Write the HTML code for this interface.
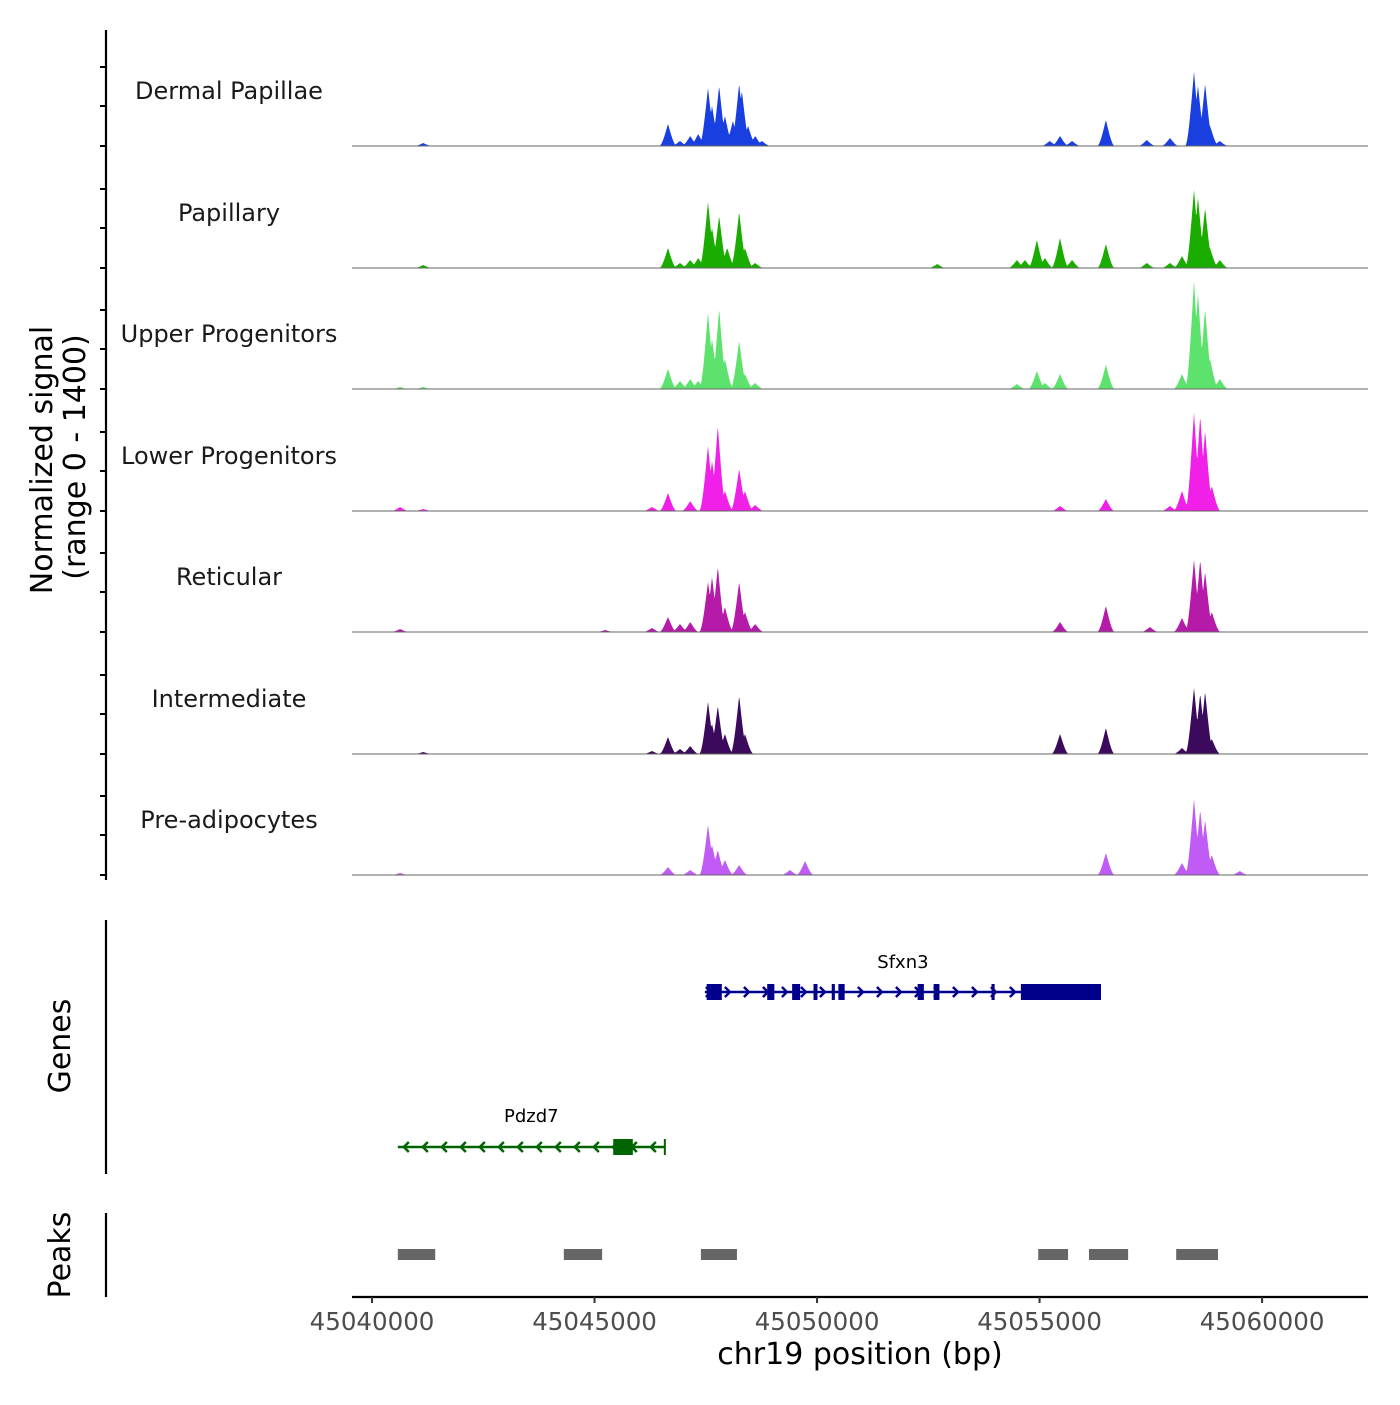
<!DOCTYPE html>
<html><head><meta charset="utf-8"><style>
body{margin:0;background:#fff}
text{font-family:"DejaVu Sans","Liberation Sans",sans-serif}
</style></head><body>
<svg id="chart" width="1400" height="1400" viewBox="0 0 1400 1400" xmlns="http://www.w3.org/2000/svg"></svg>
<script>
// ---- data ----
const trackNames = ["Dermal Papillae","Papillary","Upper Progenitors","Lower Progenitors","Reticular","Intermediate","Pre-adipocytes"];
const trackColors = ["#1a3fe0","#1aad00","#5de26e","#f020e8","#b51aa8","#3b0a5c","#c05cf5"];
const dermalPos = [45041150,45046650,45046920,45047150,45047330,45047550,45047640,45047800,45047930,45048110,45048250,45048310,45048450,45048610,45048760,45055230,45055460,45055730,45056490,45057410,45057930,45058470,45058560,45058720,45058830,45059050];
const dermalVal = [36,264,60,120,144,696,480,720,360,300,744,660,240,120,60,60,120,60,312,72,96,888,720,744,240,60];
const papPos = [45041150,45046650,45046920,45047150,45047330,45047550,45047640,45047800,45047980,45048250,45048380,45048610,45052700,45054490,45054670,45054940,45055120,45055460,45055730,45056490,45057410,45057930,45058200,45058470,45058560,45058720,45058830,45059050];
const papVal = [36,240,60,96,120,792,480,624,240,672,240,60,48,96,96,336,120,360,96,288,60,60,144,936,840,720,240,96];
const upPos = [45040630,45041150,45046650,45046920,45047150,45047330,45047550,45047640,45047800,45047930,45048250,45048380,45048610,45054490,45054940,45055120,45055460,45056490,45058200,45058470,45058560,45058720,45058830,45059050];
const upVal = [24,24,240,96,120,96,912,600,960,360,576,180,72,60,216,72,180,288,180,1296,1140,960,360,120];
const lowPos = [45040630,45041150,45046290,45046650,45047150,45047550,45047640,45047770,45047930,45048250,45048380,45048610,45055460,45056490,45057930,45058200,45058470,45058610,45058720,45058870];
const lowVal = [48,24,48,216,120,780,600,1020,240,504,240,72,60,144,60,240,1176,1140,960,300];
const retPos = [45040630,45045240,45046290,45046650,45046920,45047150,45047550,45047640,45047770,45047930,45048250,45048380,45048610,45055460,45056490,45057480,45058200,45058470,45058610,45058720,45058870];
const retVal = [36,24,48,180,96,120,600,660,780,300,600,240,96,120,312,60,168,864,864,720,240];
const intPos = [45041150,45046290,45046650,45046920,45047150,45047550,45047640,45047770,45047930,45048250,45048380,45055460,45056490,45058200,45058470,45058610,45058720,45058870];
const intVal = [24,36,204,60,96,624,360,576,240,696,240,240,312,72,792,720,744,180];
const prePos = [45040630,45046650,45047150,45047550,45047640,45047770,45047930,45048250,45049390,45049730,45056490,45058200,45058470,45058610,45058720,45058870,45059500];
const preVal = [24,96,60,600,360,300,180,120,60,168,264,144,912,780,660,240,48];
const trackPos = [dermalPos,papPos,upPos,lowPos,retPos,intPos,prePos];
const trackVal = [dermalVal,papVal,upVal,lowVal,retVal,intVal,preVal];
const xTicks = [45040000,45045000,45050000,45055000,45060000];
const peakStarts = [45040580,45044310,45047390,45054970,45056110,45058070];
const peakEnds   = [45041420,45045170,45048200,45055640,45056990,45059010];
const sfxnExonStart = [45047520,45048880,45049440,45049920,45050330,45050480,45052260,45052620,45053920,45054580];
const sfxnExonEnd   = [45047860,45049040,45049620,45050010,45050400,45050620,45052400,45052750,45053990,45056380];
const sfxnStart = 45047480, sfxnEnd = 45056380;
const pdzStart = 45040580, pdzEnd = 45046580;
const pdzExonStart = [45045420], pdzExonEnd = [45045860];

// ---- scales ----
const X0=352, X1=1368, D0=45039550, D1=45062380;
const xs = v => X0 + (v-D0)/(D1-D0)*(X1-X0);
const baselines = [146,268,389,511,632,754,875];
const ys = (v,b) => b - v/1400*117;
const NS="http://www.w3.org/2000/svg";
const svg=document.getElementById('chart');
function mk(tag,attrs,parent){const e=document.createElementNS(NS,tag);for(const k in attrs)e.setAttribute(k,attrs[k]);(parent||svg).appendChild(e);return e;}

// left signal axis
const ax=mk('line',{x1:106,y1:30,x2:106,y2:880,stroke:'#000','stroke-width':2.2});


baselines.forEach(b=>{[0,40,79].forEach(o=>{const t=mk('line',{x1:100,y1:b-o,x2:106,y2:b-o,stroke:'#000','stroke-width':2});

});});

// tracks
const HW=9;
trackNames.forEach((name,i)=>{
  const g=mk('g',{});
  
  
  const b=baselines[i], pos=trackPos[i], val=trackVal[i];
  let d='M'+X0+','+b;
  for(let x=X0;x<=X1;x+=0.5){
    let m=0;
    for(let k=0;k<pos.length;k++){const px=xs(pos[k]);const dd=Math.abs(x-px);if(dd<HW){const u=1-dd/HW;const v=val[k]*u*u*(1.6-0.6*u);if(v>m)m=v;}}
    d+=' L'+x+','+ys(m,b).toFixed(2);
  }
  d+=' L'+X1+','+b+' Z';
  const p=mk('path',{d:d,fill:trackColors[i],stroke:'none'},g);
  
  
  const bl=mk('line',{x1:X0,y1:b,x2:X1,y2:b,stroke:'#666','stroke-width':1},g);
  
  
  const t=mk('text',{x:229,y:b-47,'text-anchor':'middle','font-size':24,fill:'#1a1a1a'},g);
  t.textContent=name;
  
  
});

// y title
const yt=mk('text',{transform:'translate(52,460) rotate(-90)','text-anchor':'middle','font-size':30,fill:'#000'});
yt.textContent='Normalized signal';


const yt2=mk('text',{transform:'translate(85,457) rotate(-90)','text-anchor':'middle','font-size':30,fill:'#000'});
yt2.textContent='(range 0 - 1400)';



// genes panel
const ga=mk('line',{x1:106,y1:920,x2:106,y2:1174,stroke:'#000','stroke-width':2.2});


const gl=mk('text',{transform:'translate(70,1046) rotate(-90)','text-anchor':'middle','font-size':30,fill:'#000'});
gl.textContent='Genes';



function drawGene(name,start,end,es,ee,y,color,dir,labelY){
  const g=mk('g',{});
  
  
  mk('line',{x1:xs(start),y1:y,x2:xs(end),y2:y,stroke:color,'stroke-width':2.5},g);
  for(let x=xs(start)+6;x<xs(end)-4;x+=19){
    const dx=dir>0?5:-5;
    mk('polyline',{points:`${x-dx},${y-5} ${x},${y} ${x-dx},${y+5}`,fill:'none',stroke:color,'stroke-width':2.5},g);
  }
  es.forEach((s,k)=>{const r=mk('rect',{x:xs(s),y:y-8,width:Math.max(2,xs(ee[k])-xs(s)),height:16,fill:color},g);
    
    });
  const t=mk('text',{x:(xs(start)+xs(end))/2,y:labelY,'text-anchor':'middle','font-size':18,fill:'#000'},g);
  t.textContent=name;
  
  
}
drawGene('Sfxn3',sfxnStart,sfxnEnd,sfxnExonStart,sfxnExonEnd,992,'#00008b',1,968);
drawGene('Pdzd7',pdzStart,pdzEnd,pdzExonStart,pdzExonEnd,1147,'#006400',-1,1122);
const endTick=mk('line',{x1:xs(pdzEnd),y1:1139,x2:xs(pdzEnd),y2:1155,stroke:'#006400','stroke-width':2});



// peaks panel
const pa=mk('line',{x1:106,y1:1213,x2:106,y2:1297,stroke:'#000','stroke-width':2.2});


const pl=mk('text',{transform:'translate(70,1255) rotate(-90)','text-anchor':'middle','font-size':30,fill:'#000'});
pl.textContent='Peaks';


peakStarts.forEach((s,k)=>{const r=mk('rect',{x:xs(s),y:1249,width:xs(peakEnds[k])-xs(s),height:11,fill:'#666'});
  
  });

// x axis
const xa=mk('line',{x1:X0,y1:1297,x2:X1,y2:1297,stroke:'#000','stroke-width':2.2});


xTicks.forEach(v=>{
  const t=mk('line',{x1:xs(v),y1:1297,x2:xs(v),y2:1303,stroke:'#333','stroke-width':2});
  
  
  const l=mk('text',{x:xs(v),y:1330,'text-anchor':'middle','font-size':24.5,fill:'#4d4d4d'});
  l.textContent=v;
  
  
});
const xt=mk('text',{x:860,y:1364,'text-anchor':'middle','font-size':30,fill:'#000'});
xt.textContent='chr19 position (bp)';


</script>
</body></html>
